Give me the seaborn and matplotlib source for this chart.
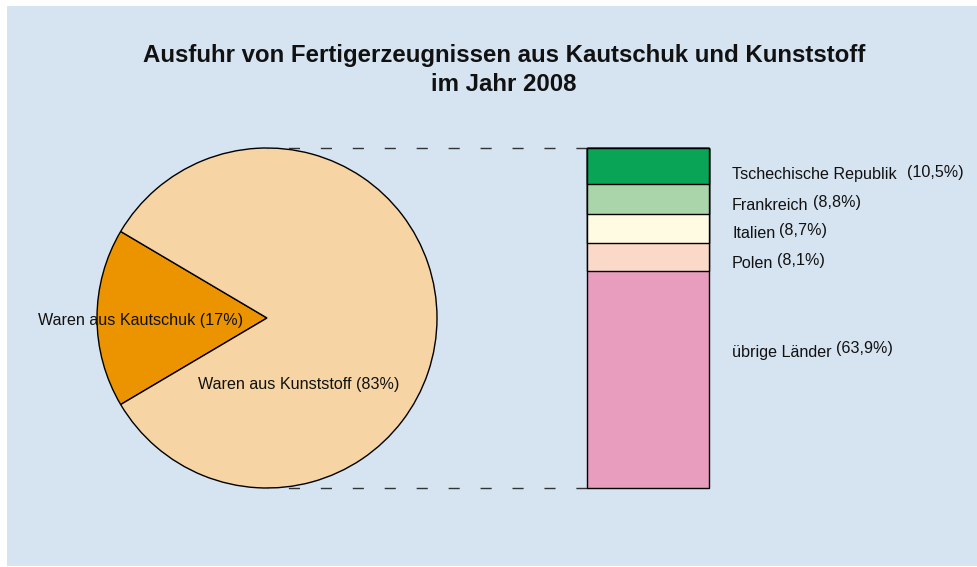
import matplotlib
matplotlib.use("Agg")
import matplotlib.pyplot as plt
import seaborn as sns
import pandas as pd
from matplotlib.patches import Rectangle

# ---------------- data ----------------
title = "Ausfuhr von Fertigerzeugnissen aus Kautschuk und Kunststoff\nim Jahr 2008"
pie_labels = ["Waren aus Kautschuk", "Waren aus Kunststoff"]
pie_values = [17, 83]
pie_colors = ["#ec9400", "#f6d4a4"]

bar_countries = ["Tschechische Republik", "Frankreich", "Italien", "Polen", "übrige Länder"]
bar_values = [10.5, 8.8, 8.7, 8.1, 63.9]
bar_pct_text = ["(10,5%)", "(8,8%)", "(8,7%)", "(8,1%)", "(63,9%)"]
bar_colors = ["#0aa456", "#aad5aa", "#fffbe2", "#fad9c9", "#e99dbe"]

# ---------------- layout (pixels) ----------------
W, H = 977, 567
BG = "#d6e3f1"
pie_center = (267, 318)
pie_radius = 170
bar_left, bar_right, bar_top, bar_bottom = 587, 709, 148, 488
label_x = 732
label_y = [175, 205, 234, 264, 352]
name_gaps = [10, 5, 4, 4, 4]  # pixels between name and percentage
FS = 11.6

sns.set_style("white")
plt.rcParams["font.family"] = ["Liberation Sans", "DejaVu Sans"]

fig = plt.figure(figsize=(W / 100, H / 100), dpi=100, facecolor="white")
bg = fig.add_axes([0, 0, 1, 1], zorder=-5)
bg.set_xlim(0, W)
bg.set_ylim(H, 0)
bg.axis("off")
bg.add_patch(Rectangle((7, 6), W, H - 7, facecolor=BG, edgecolor="none"))

ax = fig.add_axes([0, 0, 1, 1], zorder=1)
ax.patch.set_alpha(0)

# pie
half = pie_values[0] / 100 * 360 / 2
wedges, _ = ax.pie(pie_values, colors=pie_colors, startangle=180 - half,
                   center=pie_center, radius=pie_radius,
                   wedgeprops=dict(edgecolor="black", linewidth=1.0))
ax.set_xlim(0, W)
ax.set_ylim(H, 0)
ax.set_aspect("equal")
ax.axis("off")

ax.text(141, 320, f"{pie_labels[0]} ({pie_values[0]}%)", fontsize=FS,
        ha="center", va="center", color="#111111")
ax.text(299, 385, f"{pie_labels[1]} ({pie_values[1]}%)", fontsize=FS,
        ha="center", va="center", color="#111111")

# dashed connectors (pattern starts at the bar)
for y in (pie_center[1] - pie_radius, pie_center[1] + pie_radius):
    ax.plot([bar_left, pie_center[0]], [y, y], color="#333333", lw=1.0,
            linestyle=(0, (8, 15)))

# title
ax.text(504, 70, title, fontsize=17.3, fontweight="bold", ha="center",
        va="center", linespacing=1.35, color="#111111")

# stacked bar via seaborn (cumulative overlay)
axb = fig.add_axes([bar_left / W, (H - bar_bottom) / H,
                    (bar_right - bar_left) / W, (bar_bottom - bar_top) / H], zorder=2)
axb.patch.set_alpha(0)
cum = []
s = 0
for v in bar_values:
    s += v
    cum.append(round(s, 1))
for c, col in reversed(list(zip(cum, bar_colors))):
    df = pd.DataFrame({"g": ["Ausfuhr"], "v": [c]})
    sns.barplot(data=df, x="g", y="v", color=col, saturation=1, width=1,
                edgecolor="black", linewidth=1.0, ax=axb)
for p in axb.patches:
    p.set_clip_on(False)
axb.set_xlim(-0.5, 0.5)
axb.set_ylim(100, 0)
axb.axis("off")

# bar labels
fig.canvas.draw()
r = fig.canvas.get_renderer()
for name, pct, y, gap in zip(bar_countries, bar_pct_text, label_y, name_gaps):
    t = ax.text(label_x, y, name, fontsize=FS, ha="left", va="center", color="#111111")
    bb = t.get_window_extent(renderer=r)
    ax.text(bb.x1 + gap, y - 3, pct, fontsize=FS, ha="left", va="center", color="#111111")

fig.savefig("out.png", dpi=100, facecolor="white")
